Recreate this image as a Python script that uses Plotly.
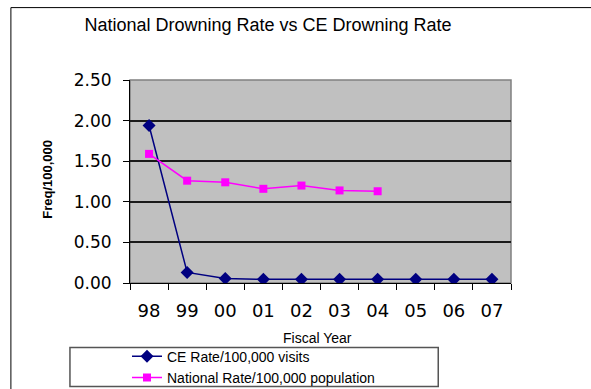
import plotly.graph_objects as go

# Fiscal years and drowning rates
years = ["98", "99", "00", "01", "02", "03", "04", "05", "06", "07"]
ce_rate = [1.94, 0.13, 0.055, 0.045, 0.045, 0.045, 0.045, 0.045, 0.045, 0.045]
national_years = ["98", "99", "00", "01", "02", "03", "04"]
national_rate = [1.59, 1.26, 1.24, 1.16, 1.20, 1.14, 1.13]

FONT = "Liberation Sans, Arial, sans-serif"
TICK_FONT = "DejaVu Sans, sans-serif"

# plot-area geometry in pixels
L, R, T, B = 130, 510.7, 80, 283.3
W_PX, H_PX = R - L, B - T


def px_x(x):
    return (x - L) / W_PX


def px_y(y):
    return (B - y) / H_PX


fig = go.Figure()
fig.add_trace(go.Scatter(
    x=years, y=ce_rate, mode="lines+markers", name="CE Rate/100,000 visits",
    line=dict(color="#000080", width=1.5),
    marker=dict(symbol="diamond", size=10, color="#000080"),
))
fig.add_trace(go.Scatter(
    x=national_years, y=national_rate, mode="lines+markers",
    name="National Rate/100,000 population",
    line=dict(color="#FF00FF", width=1.5),
    marker=dict(symbol="square", size=8, color="#FF00FF"),
))

fig.update_layout(
    width=591, height=389,
    margin=dict(l=L, r=591 - R, t=T, b=389 - B, autoexpand=False),
    paper_bgcolor="white", plot_bgcolor="#C0C0C0",
    font=dict(family=FONT, color="black"),
    title=dict(text="National Drowning Rate vs CE Drowning Rate",
               x=268/591, xanchor="center", xref="container",
               y=1-25/389, yanchor="middle", yref="container",
               font=dict(size=18, family=FONT)),
    showlegend=True,
    legend=dict(x=px_x(127), y=px_y(341), xanchor="left", yanchor="top",
                xref="paper", yref="paper",
                bgcolor="rgba(0,0,0,0)", font=dict(size=14, family=FONT),
                itemwidth=30, tracegroupgap=0),
)

fig.update_xaxes(
    type="category", categoryorder="array", categoryarray=years,
    range=[-0.5, 9.5], tickson="boundaries",
    ticks="outside", ticklen=6, tickcolor="black",
    showline=True, linecolor="black", linewidth=1,
    showgrid=False, tickfont=dict(size=18, family=TICK_FONT),
    ticklabelstandoff=11,
)
fig.update_yaxes(
    range=[0, 2.5], dtick=0.5, tickformat=".2f",
    ticks="outside", ticklen=6, tickcolor="black",
    showline=True, linecolor="black", linewidth=1,
    showgrid=True, gridcolor="#1a1a1a", gridwidth=1.5, zeroline=False,
    tickfont=dict(size=17, family=TICK_FONT), ticklabelstandoff=8,
)

# plot-area border on top and right
fig.add_shape(type="rect", xref="paper", yref="paper", x0=0, x1=1, y0=0, y1=1,
              line=dict(color="#808080", width=1.5), layer="below")
# outer chart frame
fig.add_shape(type="rect", xref="paper", yref="paper",
              x0=px_x(11), x1=px_x(600), y0=px_y(400), y1=px_y(7.5),
              line=dict(color="black", width=1))
# legend box
fig.add_shape(type="rect", xref="paper", yref="paper",
              x0=px_x(70), x1=px_x(438), y0=px_y(387), y1=px_y(348),
              line=dict(color="#555555", width=1.5))

fig.add_annotation(text="Fiscal Year", xref="paper", yref="paper",
                   x=px_x(317), y=px_y(338),
                   xanchor="center", yanchor="middle", showarrow=False,
                   font=dict(size=14, family=FONT))
fig.add_annotation(text="<b>Freq/100,000</b>", xref="paper", yref="paper",
                   x=px_x(48), y=px_y(179), textangle=-90,
                   xanchor="center", yanchor="middle", showarrow=False,
                   font=dict(size=13, family=FONT))

fig.write_html("out.html")
